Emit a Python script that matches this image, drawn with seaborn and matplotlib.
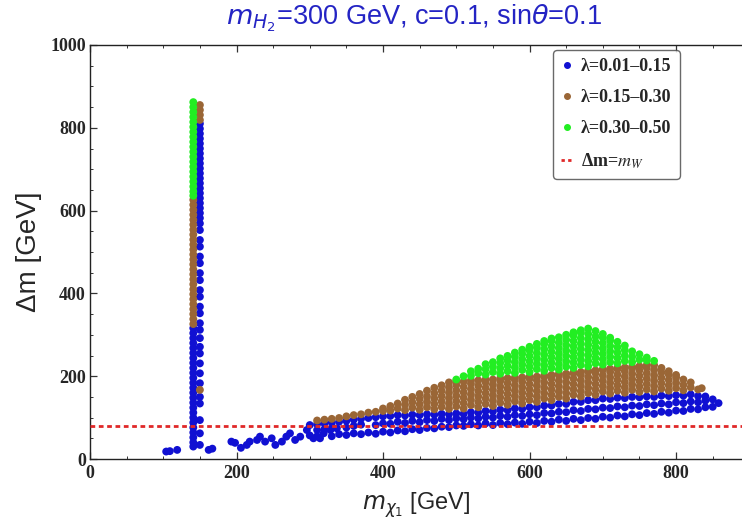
import numpy as np
import pandas as pd
import matplotlib
matplotlib.use("Agg")
import matplotlib.pyplot as plt
import seaborn as sns
from matplotlib.lines import Line2D

# ---------------- data ----------------
# vertical stripe near m_chi1 ~ 140-150 GeV
stripe_left_x = 141
stripe_left_green = [862, 850, 838, 826, 814, 802, 790, 778, 766, 754, 742, 730, 718, 706,
                     694, 682, 670, 658, 646, 636]
stripe_left_brown = [626, 614, 602, 590, 578, 566, 554, 542, 530, 518, 506, 494, 482, 470,
                     458, 446, 434, 422, 410, 398, 386, 374, 362, 350, 338, 326]
stripe_left_blue = [316, 304, 292, 280, 268, 256, 244, 232, 220, 208, 196, 184, 172, 160,
                    148, 136, 124, 112, 100, 88, 76, 64, 52, 40, 30]
stripe_right_x = 150
stripe_right_brown = [855, 843, 831, 819, 167]
stripe_right_blue = [810, 798, 786, 774, 762, 750, 738, 726, 714, 702, 690, 678, 666, 654,
                     642, 630, 618, 606, 594, 582, 569, 553, 529, 513, 489, 473, 449, 432,
                     408, 392, 368, 352, 328, 312, 292, 271, 255, 231, 207, 183, 150, 134,
                     94, 62, 34]

# sparse blue points at low mass
blue_sparse_x = [104, 109, 119, 162, 167, 193, 198, 206, 214, 218, 228, 232, 239, 248, 253,
                 262, 268, 273, 280, 287, 296, 305, 314, 319, 328, 337]
blue_sparse_y = [18, 19, 22, 22, 25, 42, 39, 27, 34, 42, 46, 54, 42, 50, 34,
                 42, 54, 62, 46, 54, 70, 50, 50, 62, 70, 74]

# blue band (columns of points)
blue_band_x = [300, 310, 320, 330, 340, 350, 360, 370, 380, 390, 400, 410, 420, 430, 440,
               450, 460, 470, 480, 490, 500, 510, 520, 530, 540, 550, 560, 570, 580, 590,
               600, 610, 620, 630, 640, 650, 660, 670, 680, 690, 700, 710, 720, 730, 740,
               750, 760, 770, 780, 790, 800, 810, 820, 830, 840, 850, 858]
blue_band_y = [
    [57, 82], [55, 70, 84], [72, 86], [55, 74, 88], [60, 90], [58, 76, 92], [62, 80, 95],
    [60, 83, 97], [64, 99], [61, 82, 101], [66, 86, 103], [64, 85, 104], [69, 90, 106],
    [67, 87, 105], [72, 92, 107], [70, 89, 106], [75, 94, 108], [74, 92, 107], [78, 97, 109],
    [77, 94, 108], [81, 98, 110], [80, 96, 109], [84, 100, 113], [81, 98, 112], [86, 102, 116],
    [82, 100, 115], [87, 104, 119], [84, 102, 118], [88, 106, 122], [85, 104, 121],
    [90, 108, 125], [87, 106, 125], [92, 111, 129], [90, 110, 129], [95, 114, 133],
    [92, 113, 133], [97, 118, 138], [94, 116, 138], [99, 121, 142], [97, 120, 142],
    [102, 124, 146], [100, 123, 145], [105, 127, 148], [103, 125, 147], [108, 129, 150],
    [106, 128, 149], [111, 132, 151], [109, 130, 150], [114, 134, 153], [112, 132, 152],
    [117, 137, 154], [116, 135, 153], [121, 139, 156], [120, 137, 152], [125, 141, 151],
    [126, 144], [135]]

# brown band (columns of points)
brown_x = [310, 320, 330, 340, 350, 360, 370, 380, 390, 400, 410, 420, 430, 440, 450, 460,
           470, 480, 490, 500, 510, 520, 530, 540, 550, 560, 570, 580, 590, 600, 610, 620,
           630, 640, 650, 660, 670, 680, 690, 700, 710, 720, 730, 740, 750, 760, 770, 780,
           790, 800, 810, 820, 830, 835]
brown_y = [
    [93], [95], [97], [99], [103], [106], [108], [112], [114], [116, 122], [117, 128],
    [122, 134], [118, 131, 143], [124, 137, 150], [119, 132, 145, 157], [125, 138, 151, 165],
    [120, 133, 146, 159, 172], [126, 139, 152, 165, 178], [121, 134, 147, 160, 173, 185],
    [127, 140, 153, 166, 179, 188], [122, 135, 148, 161, 174, 187],
    [130, 143, 156, 169, 182, 190], [125, 138, 151, 164, 177, 190],
    [133, 146, 159, 172, 185, 192], [128, 141, 154, 167, 180, 192],
    [136, 149, 162, 175, 188, 195], [131, 144, 157, 170, 183, 195],
    [139, 152, 165, 178, 191, 197], [134, 147, 160, 173, 186, 197],
    [142, 155, 168, 181, 194, 199], [138, 151, 164, 177, 190, 199],
    [146, 159, 172, 185, 198, 202], [142, 155, 168, 181, 194, 203],
    [150, 163, 176, 189, 202, 206], [146, 159, 172, 185, 198, 206],
    [155, 168, 181, 194, 207, 209], [151, 164, 177, 190, 203, 210],
    [159, 172, 185, 198, 211, 213], [155, 168, 181, 194, 207, 214],
    [163, 176, 189, 202, 215, 217], [158, 171, 184, 197, 210, 218],
    [165, 178, 191, 204, 217, 220], [160, 173, 186, 199, 212, 221],
    [167, 180, 193, 206, 219, 223], [162, 175, 188, 201, 214, 224],
    [168, 181, 194, 207, 220, 227], [163, 176, 189, 202, 215, 227],
    [170, 183, 196, 209, 220], [165, 178, 191, 204, 212], [171, 184, 197, 203],
    [166, 179, 192], [173, 185], [168], [171]]

# green band (columns of points)
green_x = [500, 510, 520, 530, 540, 550, 560, 570, 580, 590, 600, 610, 620, 630, 640, 650,
           660, 670, 680, 690, 700, 710, 720, 730, 740, 750, 760, 770]
green_y = [
    [192], [200], [201, 212], [207, 218], [204, 217, 229], [210, 223, 234],
    [206, 219, 232, 243], [212, 225, 238, 249], [208, 221, 234, 247, 257],
    [215, 228, 241, 254, 264], [210, 223, 236, 249, 262, 271],
    [217, 230, 243, 256, 269, 278], [213, 226, 239, 252, 265, 278, 285],
    [220, 233, 246, 259, 272, 285, 291], [216, 229, 242, 255, 268, 281, 294],
    [223, 236, 249, 262, 275, 288, 300], [220, 233, 246, 259, 272, 285, 298, 306],
    [227, 240, 253, 266, 279, 292, 305, 311], [224, 237, 250, 263, 276, 289, 302, 315],
    [231, 244, 257, 270, 283, 296, 309], [228, 241, 254, 267, 280, 293, 302],
    [234, 247, 260, 273, 286, 293], [231, 244, 257, 270, 283], [237, 250, 263, 274],
    [234, 247, 260], [240, 253], [238, 245], [237]]

m_W = 80.4
series_labels = ["λ=0.01–0.15", "λ=0.15–0.30", "λ=0.30–0.50"]
line_label = r"Δm=$m_W$"
title_text = r"$m_{H_2}$=300 GeV, c=0.1, sin$\theta$=0.1"
x_label = r"$m_{\chi_1}$ [GeV]"
y_label = "Δm [GeV]"
x_ticks = [0, 200, 400, 600, 800]
y_ticks = [0, 200, 400, 600, 800, 1000]

colors = {series_labels[0]: "#1010d2", series_labels[1]: "#9a6636", series_labels[2]: "#22ee22"}

# ---------------- build table ----------------
rows = []
def add(xs, ys, lab):
    for x, y in zip(xs, ys):
        rows.append((x, y, lab))

def add_cols(xcols, ycols, lab):
    for x, ys in zip(xcols, ycols):
        for y in ys:
            rows.append((x, y, lab))

add(blue_sparse_x, blue_sparse_y, series_labels[0])
add([stripe_left_x] * len(stripe_left_blue), stripe_left_blue, series_labels[0])
add([stripe_right_x] * len(stripe_right_blue), stripe_right_blue, series_labels[0])
add_cols(blue_band_x, blue_band_y, series_labels[0])
add_cols(brown_x, brown_y, series_labels[1])
add([stripe_left_x] * len(stripe_left_brown), stripe_left_brown, series_labels[1])
add([stripe_right_x] * len(stripe_right_brown), stripe_right_brown, series_labels[1])
add_cols(green_x, green_y, series_labels[2])
add([stripe_left_x] * len(stripe_left_green), stripe_left_green, series_labels[2])

df = pd.DataFrame(rows, columns=["mchi", "dm", "lam"])

# ---------------- plot ----------------
sns.set_style("white")
plt.rcParams["font.family"] = ["Liberation Sans", "DejaVu Sans"]

fig = plt.figure(figsize=(7.42, 5.31), dpi=100)
ax = fig.add_axes([90 / 742, 72 / 531, 652 / 742, 414 / 531])

sns.scatterplot(data=df, x="mchi", y="dm", hue="lam", palette=colors,
                hue_order=series_labels, s=32, linewidth=0, edgecolor="none",
                legend=False, ax=ax, zorder=3)

ax.axhline(m_W, color="#e02828", lw=2.0, ls=(0, (1.7, 1.3)), zorder=4)

ax.set_xlim(0, 890)
ax.set_ylim(0, 1000)
ax.set_xticks(x_ticks)
ax.set_yticks(y_ticks)
ax.set_xticks(np.arange(0, 900, 50), minor=True)
ax.set_yticks(np.arange(0, 1001, 50), minor=True)
ax.tick_params(which="both", direction="in", top=True, right=False, left=True, bottom=True,
               color="#333333")
ax.tick_params(which="major", length=5, width=0.9)
ax.tick_params(which="minor", length=2.5, width=0.7)
for lab in ax.get_xticklabels() + ax.get_yticklabels():
    lab.set_fontfamily("Liberation Serif")
    lab.set_fontweight("bold")
    lab.set_fontsize(13)
ax.tick_params(axis="x", pad=4)
ax.tick_params(axis="y", pad=3)

for side in ["left", "bottom", "top"]:
    ax.spines[side].set_color("#222222")
    ax.spines[side].set_linewidth(1.0)
ax.spines["right"].set_visible(False)

ax.set_xlabel(x_label, fontsize=17, labelpad=6, math_fontfamily="dejavusans")
ax.set_ylabel(y_label, fontsize=20, labelpad=6)
fig.text(414 / 742, 1 - 18 / 531, title_text, ha="center", va="center", fontsize=19.5,
         color="#2424c4", math_fontfamily="dejavusans")

handles = [Line2D([0], [0], marker="o", ls="none", ms=4, color=colors[l]) for l in series_labels]
handles.append(Line2D([0], [0], color="#e02828", lw=2.0, ls=(0, (1.2, 1.2))))
leg = ax.legend(handles, series_labels + [line_label], loc="upper left",
                bbox_to_anchor=((553 - 90) / 652, (459 - 50) / 414), borderaxespad=0,
                frameon=True, fancybox=True, handlelength=0.6, handletextpad=0.5,
                labelspacing=0.78, borderpad=0.45,
                prop={"family": "Liberation Serif", "weight": "bold", "size": 13})
leg.get_frame().set_edgecolor("#444444")
leg.get_frame().set_linewidth(1.0)
leg.get_texts()[3].set_math_fontfamily("stix")

fig.savefig("out.png", dpi=100)
